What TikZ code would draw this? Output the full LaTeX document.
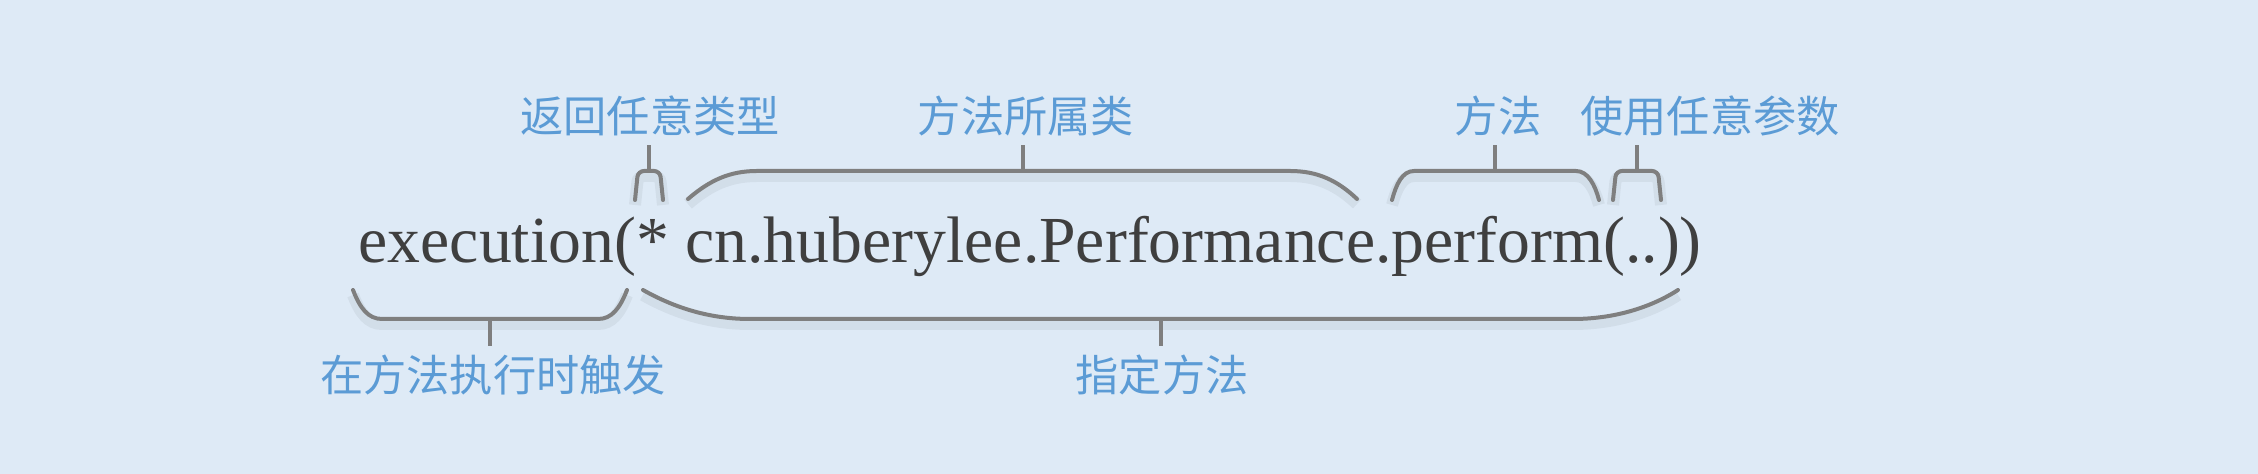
\documentclass[tikz,border=0pt]{standalone}
\usepackage{fontspec}
\setmainfont{Liberation Serif}
\newfontfamily\cjk{Noto Sans CJK SC}
\definecolor{pagebg}{HTML}{DEEAF6}
\definecolor{codegray}{HTML}{3F3F3F}
\definecolor{hintblue}{HTML}{5B9BD5}
\definecolor{bracegray}{HTML}{7F7F7F}
\begin{document}
\begin{tikzpicture}[x=0.1mm,y=-0.1mm,
    code/.style={anchor=base west,inner sep=0pt,text=codegray,font=\fontsize{18.7pt}{22pt}\selectfont},
    hint/.style={inner sep=0.8mm,text=hintblue,font=\cjk\fontsize{12.3pt}{14pt}\selectfont},
    brk/.style={draw=bracegray,line width=0.4mm,line cap=round,
        preaction={draw=black,opacity=0.05,line width=1.2mm,transform canvas={yshift=-0.5mm}}},
    stem/.style={draw=bracegray,line width=0.4mm}
]
\fill[pagebg] (0,0) rectangle (2258,474);
\useasboundingbox (0,0) rectangle (2258,474);

\node[code] (sig) at (358,263) {execution(* cn.huberylee.Performance.perform(..))};

\node[hint] (ret)  at (650,116)  {返回任意类型};
\node[hint] (cls)  at (1026,116) {方法所属类};
\node[hint] (mtd)  at (1498,116) {方法};
\node[hint] (arg)  at (1710,116) {使用任意参数};
\node[hint] (exe)  at (493,375)  {在方法执行时触发};
\node[hint] (pick) at (1162,375) {指定方法};

% braces above the code
\draw[brk,rounded corners=0.6mm] (635,200) -- (638,171) -- (660,171) -- (663,200);
\draw[brk] (688,199) .. controls (710,180) and (730,171) .. (757,171) -- (1290,171)
    .. controls (1317,171) and (1337,180) .. (1357,199);
\draw[brk] (1392,200) .. controls (1396,185) and (1402,171) .. (1414,171) -- (1576,171)
    .. controls (1588,171) and (1595,185) .. (1599,200);
\draw[brk,rounded corners=0.6mm] (1613,200) -- (1616,171) -- (1658,171) -- (1661,200);

% braces below the code
\draw[brk] (353,290) .. controls (360,308) and (368,319) .. (382,319) -- (598,319)
    .. controls (612,319) and (620,308) .. (627,290);
\draw[brk] (643,290) .. controls (675,308) and (710,319) .. (750,319) -- (1573,319)
    .. controls (1613,319) and (1650,308) .. (1678,290);

\coordinate (retB)  at (649,171);
\coordinate (clsB)  at (1023,171);
\coordinate (mtdB)  at (1495,171);
\coordinate (argB)  at (1637,171);
\coordinate (exeB)  at (490,319);
\coordinate (pickB) at (1161,319);

\draw[stem] (retB)  -- (retB |- ret.south);
\draw[stem] (clsB)  -- (clsB |- cls.south);
\draw[stem] (mtdB)  -- (mtdB |- mtd.south);
\draw[stem] (argB)  -- (argB |- arg.south);
\draw[stem] (exeB)  -- (exeB |- exe.north);
\draw[stem] (pickB) -- (pickB |- pick.north);
\end{tikzpicture}
\end{document}
